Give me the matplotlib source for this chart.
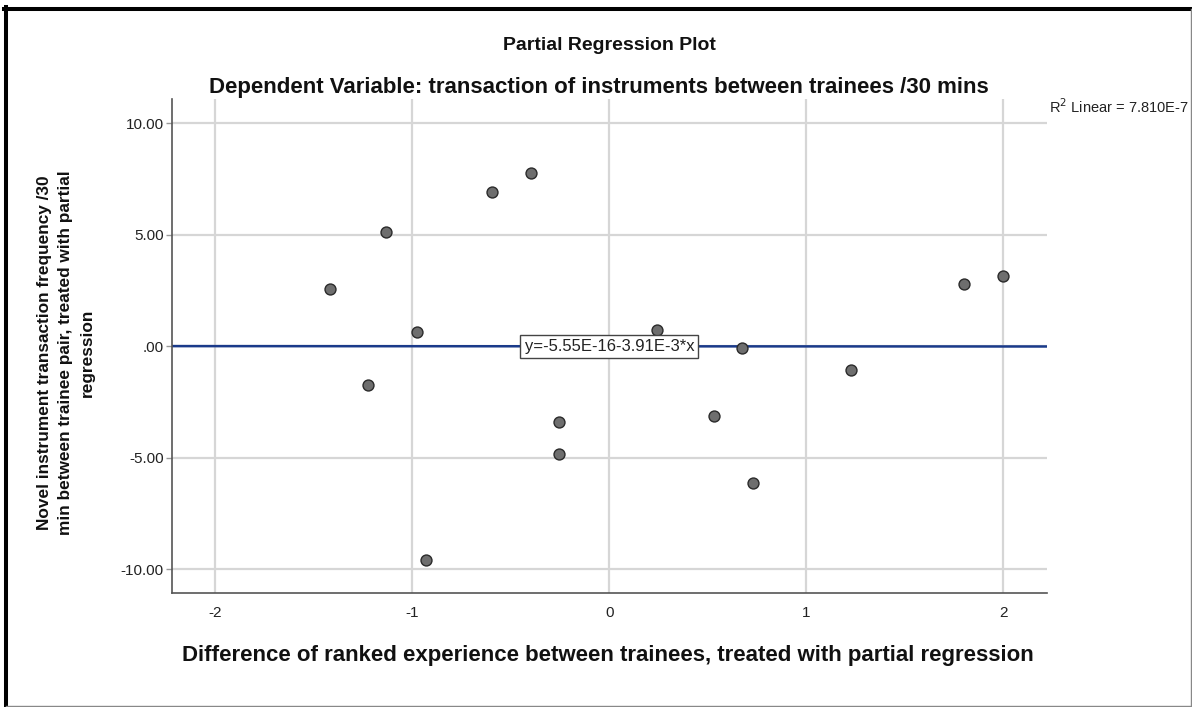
import matplotlib
matplotlib.use("Agg")
import matplotlib.pyplot as plt
from matplotlib.lines import Line2D
import numpy as np

plt.rcParams['font.family'] = ['Liberation Sans', 'DejaVu Sans']

# Data (partial regression residuals)
x_resid = [-1.420, -1.225, -1.132, -0.976, -0.933, -0.595, -0.398, -0.254,
           -0.256, 0.241, 0.532, 0.673, 0.727, 1.224, 1.800, 1.998]
y_resid = [2.55, -1.73, 5.12, 0.66, -9.57, 6.91, 7.76, -3.40,
           -4.85, 0.71, -3.13, -0.08, -6.12, -1.05, 2.80, 3.17]
intercept = -5.55e-16
slope = -3.91e-3
x_ticks = [-2, -1, 0, 1, 2]
y_ticks = [-10, -5, 0, 5, 10]
y_ticklabels = ['-10.00', '-5.00', '.00', '5.00', '10.00']

W, H = 1192, 707
fig = plt.figure(figsize=(W / 100, H / 100), dpi=100)
fig.patch.set_facecolor('white')

ax = fig.add_axes([171.7 / W, 1 - 593.3 / H, (1046.7 - 171.7) / W, (593.3 - 99.3) / H])
ax.set_xlim(-2.222, 2.22)
ax.set_ylim(-11.08, 11.08)

for s in ['top', 'right']:
    ax.spines[s].set_visible(False)
for s in ['left', 'bottom']:
    ax.spines[s].set_color('#555555')
    ax.spines[s].set_linewidth(1.2)

ax.set_xticks(x_ticks)
ax.set_xticklabels([str(t) for t in x_ticks])
ax.set_yticks(y_ticks)
ax.set_yticklabels(y_ticklabels)
ax.tick_params(axis='x', length=0, pad=9, labelsize=11, labelcolor='#222222')
ax.tick_params(axis='y', length=4.3, width=1, color='#999999', pad=1.5, labelsize=11, labelcolor='#222222')
ax.grid(True, color='#d6d6d6', linewidth=1.6)
ax.set_axisbelow(True)

# regression line
xl = np.array(ax.get_xlim())
ax.plot(xl, intercept + slope * xl, color='#1a3a8a', linewidth=1.8, zorder=2)

ax.scatter(x_resid, y_resid, s=62, facecolor='#6e6e6e', edgecolor='#2a2a2a',
           linewidth=1.0, zorder=3)

ax.text(0, 0, 'y=-5.55E-16-3.91E-3*x', ha='center', va='center', fontsize=12,
        color='#222222', zorder=4,
        bbox=dict(boxstyle='square,pad=0.25', facecolor='white', edgecolor='#444444', linewidth=1.0))

fig.text(1049 / W, 1 - 107 / H, 'R$^2$ Linear = 7.810E-7', ha='left', va='center',
         fontsize=10.5, color='#222222')

fig.text(609 / W, 1 - 45 / H, 'Partial Regression Plot', ha='center', va='center',
         fontsize=14, fontweight='bold', color='#111111')
fig.text(599 / W, 1 - 87 / H, 'Dependent Variable: transaction of instruments between trainees /30 mins',
         ha='center', va='center', fontsize=16, fontweight='bold', color='#111111')

fig.text(608 / W, 1 - 655 / H,
         'Difference of ranked experience between trainees, treated with partial regression',
         ha='center', va='center', fontsize=16, fontweight='bold', color='#111111')
fig.text(66 / W, 1 - 353 / H,
         'Novel instrument transaction frequency /30\nmin between trainee pair, treated with partial\nregression',
         ha='center', va='center', rotation=90, fontsize=12.4, fontweight='bold',
         color='#111111', linespacing=1.55)

# outer frame
fig.add_artist(Line2D([6 / W, 6 / W], [0, 1 - 6.7 / H], transform=fig.transFigure,
                      color='black', linewidth=2.9))
fig.add_artist(Line2D([4 / W, 1], [1 - 8.7 / H, 1 - 8.7 / H], transform=fig.transFigure,
                      color='black', linewidth=2.9))
fig.add_artist(Line2D([1190.5 / W, 1190.5 / W], [1 - 705.5 / H, 1 - 8.7 / H], transform=fig.transFigure,
                      color='#888888', linewidth=1.0))
fig.add_artist(Line2D([6 / W, 1190.5 / W], [1 - 705.5 / H, 1 - 705.5 / H], transform=fig.transFigure,
                      color='#888888', linewidth=1.0))

fig.savefig('out.png', dpi=100, facecolor='white')
